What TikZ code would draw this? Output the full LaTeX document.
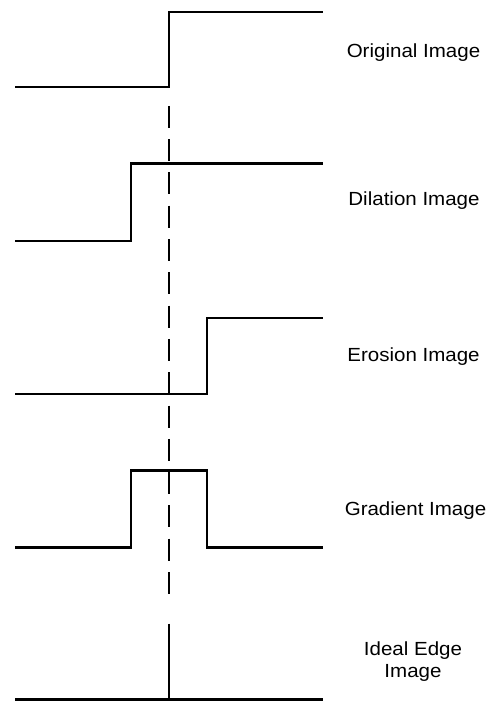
\documentclass[tikz,border=0pt]{standalone}
\usepackage{fontspec}
\newfontfamily\labfont[FakeStretch=1.08]{Liberation Sans}
\begin{document}
\begin{tikzpicture}[x=1pt,y=-1pt,
  signal/.style={line width=2.3pt,line join=miter},
  guide/.style={line width=2.3pt,dash pattern=on 22pt off 11.3pt},
  lab/.style={font=\labfont\fontsize{19}{22}\selectfont,anchor=base,inner sep=0pt,align=center}]
\useasboundingbox (0,0) rectangle (490,701);
% Original
\draw[signal] (15,87.3) -- (169.3,87.3) -- (169.3,11.7) -- (322.5,11.7);
% Dilation
\draw[signal] (15,240.8) -- (130.8,240.8) -- (130.8,163.5) -- (322.5,163.5);
% Erosion
\draw[signal] (15,394.3) -- (207.3,394.3) -- (207.3,317.8) -- (322.5,317.8);
% Gradient
\draw[signal] (15,547.5) -- (130.8,547.5) -- (130.8,470.6) -- (207.3,470.6) -- (207.3,547.5) -- (322.5,547.5);
% Ideal edge
\draw[signal] (15,699.4) -- (322.5,699.4);
\draw[signal] (169.3,623.5) -- (169.3,699.4);
% Dashed guide
\coordinate (gtop) at (169.3,105.8);
\coordinate (gbot) at (169.3,594);
\draw[guide] (gtop) -- (gbot);
% Labels
\node[lab] (lo) at (413.5,57.3) {Original Image};
\node[lab] (ld) at (414,205) {Dilation Image};
\node[lab] (le) at (413.5,361.7) {Erosion Image};
\node[lab] (lg) at (415.5,515) {Gradient Image};
\node[lab] (li) at (413,677.7) {Ideal Edge\\Image};
\end{tikzpicture}
\end{document}
